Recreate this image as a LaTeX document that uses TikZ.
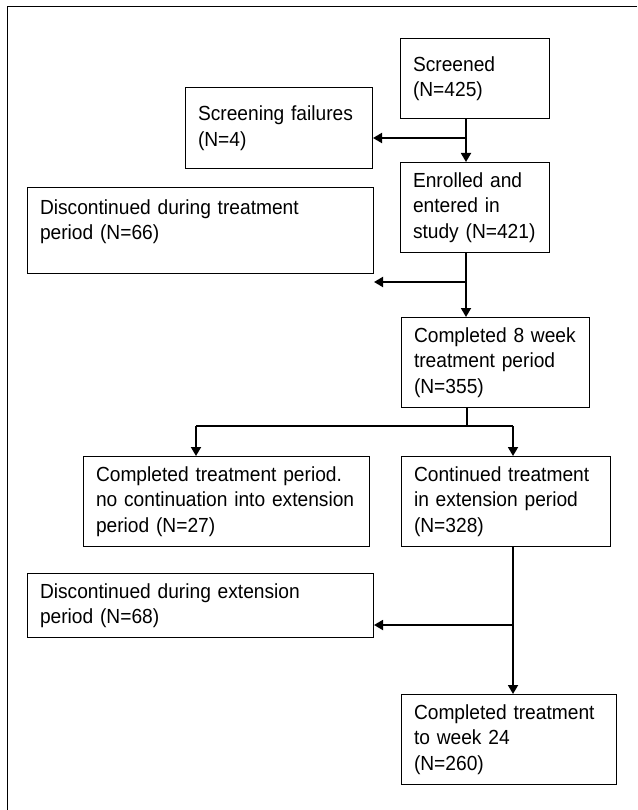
\documentclass[tikz,border=0pt]{standalone}
\usepackage{fontspec}
\setmainfont[FakeStretch=0.94]{Liberation Sans}
\usetikzlibrary{shapes,arrows,arrows.meta}
\tikzstyle{block} = [draw, rectangle, line width=1pt, anchor=north west,
    align=left, inner xsep=12.5pt, inner ysep=0pt,
    font=\fontsize{20.4}{25.5}\selectfont]
\tikzstyle{line} = [draw, line width=1.8pt]
\tikzstyle{split} = [coordinate]

\begin{document}
\begin{tikzpicture}[x=1pt, y=-1pt, >={Triangle[length=9pt,width=10pt]}]
    \useasboundingbox (0,0) rectangle (637,810);
    % the frame round the chart, cut off at the right and at the bottom
    \draw [line width=1pt] (637,7) -- (7,7) -- (7,810);

    % We start by placing the blocks
    \node [block, text width=124pt, minimum height=80pt] (screen) at (400,38)
        {Screened\\(N=425)};
    \node [block, text width=162pt, minimum height=81pt] (fail) at (185,87)
        {Screening failures\\(N=4)};
    \node [block, text width=124pt, minimum height=90pt] (enrol) at (400,162)
        {Enrolled and\\entered in\\study (N=421)};
    \node [block, text width=321pt, minimum height=86pt] (disctreat) at (27,187)
        {Discontinued during treatment\\period (N=66)\\[-4pt]\mbox{}};
    \node [block, text width=163pt, minimum height=90pt] (week8) at (401,317)
        {Completed 8 week\\treatment period\\(N=355)};
    \node [block, text width=261pt, minimum height=90pt] (nocont) at (83,456)
        {Completed treatment period.\\no continuation into extension\\period (N=27)};
    \node [block, text width=184pt, minimum height=90pt] (contin) at (401,456)
        {Continued treatment\\in extension period\\(N=328)};
    \node [block, text width=321pt, minimum height=64pt] (discext) at (27,573)
        {Discontinued during extension\\period (N=68)};
    \node [block, text width=190pt, minimum height=90pt] (week24) at (401,694)
        {Completed treatment\\to week 24\\(N=260)};

    % The points where the lines split
    \node [split] (sp1) at (466,138) {};
    \node [split] (sp2) at (466,282) {};
    \node [split] (sp3) at (467,426) {};
    \node [split] (left3) at (196,426) {};
    \node [split] (right3) at (513,426) {};
    \node [split] (sp4) at (513,625) {};

    % Once the nodes are placed, connecting them is easy.
    \draw [line, ->] (screen.south -| sp1) -- (enrol.north -| sp1);
    \draw [line, ->] (sp1) -- (fail.east |- sp1);
    \draw [line, ->] (enrol.south -| sp2) -- (week8.north -| sp2);
    \draw [line, ->] (sp2) -- (disctreat.east |- sp2);
    \draw [line] (week8.south -| sp3) -- (sp3);
    \draw [line] (left3) -- (right3);
    \draw [line, ->] (left3) -- (nocont.north -| left3);
    \draw [line, ->] (right3) -- (contin.north -| right3);
    \draw [line, ->] (contin.south -| sp4) -- (week24.north -| sp4);
    \draw [line, ->] (sp4) -- (discext.east |- sp4);
\end{tikzpicture}
\end{document}
